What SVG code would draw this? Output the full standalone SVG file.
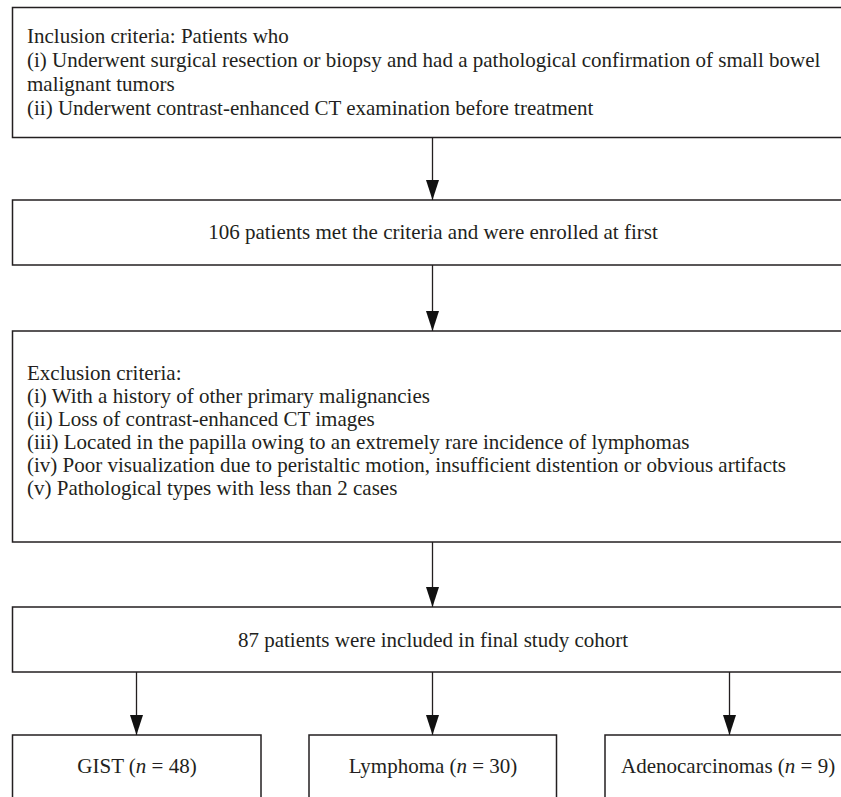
<svg xmlns="http://www.w3.org/2000/svg" width="841" height="797" viewBox="0 0 841 797">
<defs>
<style>
.box{fill:#fff;stroke:#231f20;stroke-width:1.5}
.t{font-family:"Liberation Serif","Times New Roman",serif;font-size:21px;fill:#231f20}
.c{text-anchor:middle}
.conn line{stroke:#231f20;stroke-width:1.3;marker-end:url(#ah)}
</style>
<marker id="ah" viewBox="0 0 20 13" refX="20" refY="6.5" markerWidth="20" markerHeight="13" markerUnits="userSpaceOnUse" orient="auto">
<path d="M0,0 L20,6.5 L0,13 z" fill="#111"/>
</marker>
</defs>
<rect width="841" height="797" fill="#fff"/>
<g id="inclusion">
<rect class="box" x="12.5" y="7.5" width="840" height="130"/>
<text class="t" x="27" y="43">Inclusion criteria: Patients who</text>
<text class="t" x="27" y="67">(i) Underwent surgical resection or biopsy and had a pathological confirmation of small bowel</text>
<text class="t" x="27" y="91">malignant tumors</text>
<text class="t" x="27" y="115">(ii) Underwent contrast-enhanced CT examination before treatment</text>
</g>
<g id="enrolled">
<rect class="box" x="12.5" y="200" width="840" height="65"/>
<text class="t c" x="433" y="239">106 patients met the criteria and were enrolled at first</text>
</g>
<g id="exclusion">
<rect class="box" x="12.5" y="331" width="840" height="211"/>
<text class="t" x="27" y="380">Exclusion criteria:</text>
<text class="t" x="27" y="403">(i) With a history of other primary malignancies</text>
<text class="t" x="27" y="426">(ii) Loss of contrast-enhanced CT images</text>
<text class="t" x="27" y="449">(iii) Located in the papilla owing to an extremely rare incidence of lymphomas</text>
<text class="t" x="27" y="472">(iv) Poor visualization due to peristaltic motion, insufficient distention or obvious artifacts</text>
<text class="t" x="27" y="495">(v) Pathological types with less than 2 cases</text>
</g>
<g id="cohort">
<rect class="box" x="12.5" y="607" width="840" height="65"/>
<text class="t c" x="433" y="647">87 patients were included in final study cohort</text>
</g>
<g id="gist">
<rect class="box" x="12.5" y="735" width="248.5" height="80"/>
<text class="t c" x="137" y="773">GIST (<tspan font-style="italic">n</tspan> = 48)</text>
</g>
<g id="lymphoma">
<rect class="box" x="309" y="735" width="247.5" height="80"/>
<text class="t c" x="433" y="773">Lymphoma (<tspan font-style="italic">n</tspan> = 30)</text>
</g>
<g id="adeno">
<rect class="box" x="605" y="735" width="248" height="80"/>
<text class="t" x="621" y="773">Adenocarcinomas (<tspan font-style="italic">n</tspan> = 9)</text>
</g>
<g class="conn" id="connectors">
<line x1="432.5" y1="137.5" x2="432.5" y2="200"/>
<line x1="432.5" y1="265" x2="432.5" y2="331"/>
<line x1="432.5" y1="542" x2="432.5" y2="607"/>
<line x1="136.5" y1="672" x2="136.5" y2="735"/>
<line x1="432.5" y1="672" x2="432.5" y2="735"/>
<line x1="729.5" y1="672" x2="729.5" y2="735"/>
</g>
</svg>
